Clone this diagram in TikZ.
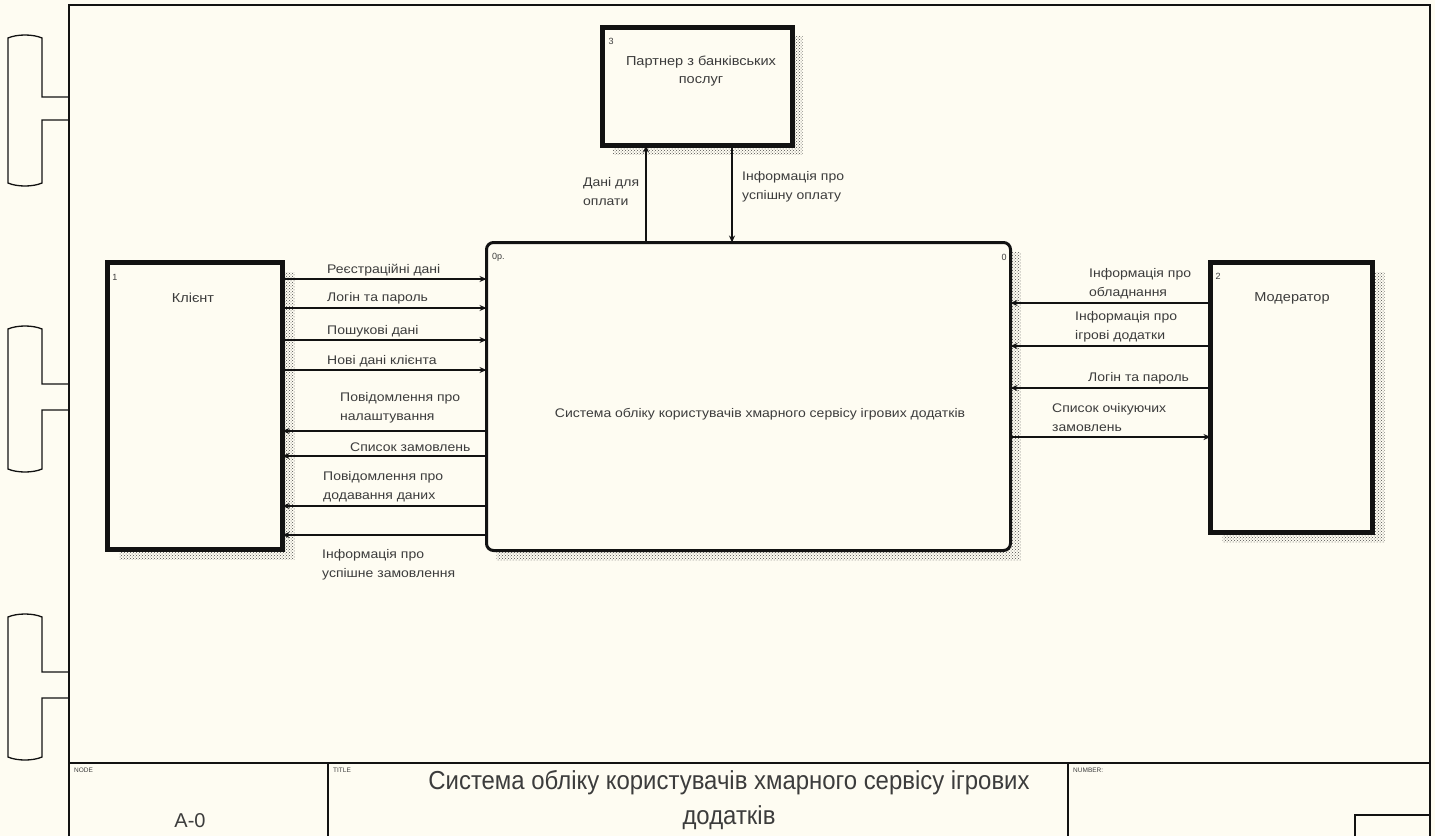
\documentclass[tikz,border=0pt]{standalone}
\usepackage{fontspec}
\setmainfont{Liberation Sans}
\newfontfamily\widefont[FakeStretch=1.12]{Liberation Sans}
\newfontfamily\narrowfont[FakeStretch=0.92]{Liberation Sans}
\usetikzlibrary{arrows.meta,patterns}
\pgfdeclarelayer{paperlayer}
\pgfdeclarelayer{shadowlayer}
\pgfsetlayers{paperlayer,shadowlayer,main}
\definecolor{paper}{RGB}{254,252,242}
\definecolor{ink}{RGB}{18,18,18}
\definecolor{txt}{RGB}{60,60,60}
\tikzset{
  box/.style={draw=ink, line width=5pt, fill=paper, inner sep=0pt, outer sep=0pt},
  procbox/.style={draw=ink, line width=3pt, fill=paper, rounded corners=7pt, inner sep=0pt, outer sep=0pt},
  boxshadow/.style={pattern=crosshatch dots, pattern color=black!70, draw=none},
  flow/.style={draw=ink, line width=1.8pt, -{Stealth[length=7pt,width=6pt]}},
  lbl/.style={font=\widefont\fontsize{12.5}{19}\selectfont, text=txt, align=left, inner sep=0pt},
  boxtext/.style={font=\widefont\fontsize{13}{18}\selectfont, text=txt, align=center, inner sep=0pt},
  tag/.style={font=\fontsize{9}{10}\selectfont, text=txt, inner sep=0pt},
  fieldname/.style={font=\fontsize{6.5}{7}\selectfont, text=txt, inner sep=0pt, anchor=west},
  frameline/.style={draw=ink, line width=1.8pt},
  binder/.style={draw=ink, line width=1.3pt},
}
\begin{document}
\begin{tikzpicture}[x=1pt,y=-1pt]
\useasboundingbox (0,0) rectangle (1435,836);
\begin{pgfonlayer}{paperlayer}
  \fill[paper] (0,0) rectangle (1435,836);
\end{pgfonlayer}

% binder clips on the left margin
\foreach \t/\na/\nb/\b in {35/97/120/186, 326/384/410/472, 614/672/698/760}{
  \draw[binder] (69,\na) -- (42,\na) -- (42,\t+3)
     .. controls (33,\t-1) and (17,\t-1) .. (8,\t+3) -- (8,\b-3)
     .. controls (17,\b+1) and (33,\b+1) .. (42,\b-3) -- (42,\nb) -- (69,\nb);
}

% sheet frame and title block
\draw[frameline] (69,836) -- (69,5) -- (1430,5) -- (1430,836);
\draw[frameline] (69,763) -- (1430,763);
\draw[frameline] (328,763) -- (328,836);
\draw[frameline] (1068,763) -- (1068,836);
\draw[frameline] (1355,836) -- (1355,815) -- (1430,815);
\node[fieldname] (fnode) at (74,770) {NODE};
\node[fieldname] (ftitle) at (333,770) {TITLE};
\node[fieldname] (fnumber) at (1073,770) {NUMBER:};
\node[font=\fontsize{20}{22}\selectfont, text=txt, inner sep=0pt] (nodeid) at (190,821) {A-0};
\node[font=\narrowfont\fontsize{26}{35}\selectfont, text=txt, inner sep=0pt, align=center] (sheettitle) at (729,800)
  {Система обліку користувачів хмарного сервісу ігрових\\додатків};

% activity and external entities
\node[box, minimum width=175, minimum height=287] (client) at (195,406) {};
\node[box, minimum width=190, minimum height=118] (partner) at (697.5,86.5) {};
\node[procbox, minimum width=524, minimum height=308] (main) at (748.5,396.5) {};
\node[box, minimum width=162, minimum height=270] (moder) at (1291.5,397.5) {};

\begin{pgfonlayer}{shadowlayer}
  \fill[boxshadow] ([xshift=12,yshift=-10]client.north east) rectangle ([xshift=12,yshift=-10]client.south west);
  \fill[boxshadow] ([xshift=10,yshift=-9]partner.north east) rectangle ([xshift=10,yshift=-9]partner.south west);
  \fill[boxshadow] ([xshift=10,yshift=-10]main.north east) rectangle ([xshift=10,yshift=-10]main.south west);
  \fill[boxshadow] ([xshift=12,yshift=-10]moder.north east) rectangle ([xshift=12,yshift=-10]moder.south west);
\end{pgfonlayer}

\node[tag] (tclient) at (115,277) {1};
\node[tag] (tpartner) at (611,41) {3};
\node[tag] (tmoder) at (1218,276) {2};
\node[tag, anchor=west] (tmainl) at (492,257) {0р.};
\node[tag] (tmainr) at (1004,257) {0};

\node[boxtext] (nclient) at (193,298) {Клієнт};
\node[boxtext] (npartner) at (701,71) {Партнер з банківських\\послуг};
\node[boxtext] (nmoder) at (1292,298) {Модератор};
\node[boxtext, font=\widefont\fontsize{12.5}{18}\selectfont] (nmain) at (760,414) {Система обліку користувачів хмарного сервісу ігрових додатків};

% client -> activity
\draw[flow] (client.east |- 0,279) -- (main.west |- 0,279);
\draw[flow] (client.east |- 0,308) -- (main.west |- 0,308);
\draw[flow] (client.east |- 0,340) -- (main.west |- 0,340);
\draw[flow] (client.east |- 0,370) -- (main.west |- 0,370);
\node[lbl, anchor=west] (a1) at (327,270) {Реєстраційні дані};
\node[lbl, anchor=west] (a2) at (327,298) {Логін та пароль};
\node[lbl, anchor=west] (a3) at (327,331) {Пошукові дані};
\node[lbl, anchor=west] (a4) at (327,361) {Нові дані клієнта};

% activity -> client
\draw[flow] (main.west |- 0,431) -- (client.east |- 0,431);
\draw[flow] (main.west |- 0,456) -- (client.east |- 0,456);
\draw[flow] (main.west |- 0,506) -- (client.east |- 0,506);
\draw[flow] (main.west |- 0,535) -- (client.east |- 0,535);
\node[lbl, anchor=west] (b1) at (340,408) {Повідомлення про\\налаштування};
\node[lbl, anchor=west] (b2) at (350,447) {Список замовлень};
\node[lbl, anchor=west] (b3) at (323,487) {Повідомлення про\\додавання даних};
\node[lbl, anchor=west] (b4) at (322,565) {Інформація про\\успішне замовлення};

% activity <-> partner
\draw[flow] (main.north -| 646,0) -- (partner.south -| 646,0);
\draw[flow] (partner.south -| 732,0) -- (main.north -| 732,0);
\node[lbl, anchor=west] (c1) at (583,192) {Дані для\\оплати};
\node[lbl, anchor=west] (c2) at (742,187) {Інформація про\\успішну оплату};

% moderator <-> activity
\draw[flow] (moder.west |- 0,303) -- (main.east |- 0,303);
\draw[flow] (moder.west |- 0,346) -- (main.east |- 0,346);
\draw[flow] (moder.west |- 0,388) -- (main.east |- 0,388);
\draw[flow] (main.east |- 0,437) -- (moder.west |- 0,437);
\node[lbl, anchor=west] (d1) at (1089,284) {Інформація про\\обладнання};
\node[lbl, anchor=west] (d2) at (1075,327) {Інформація про\\ігрові додатки};
\node[lbl, anchor=west] (d3) at (1088,378) {Логін та пароль};
\node[lbl, anchor=west] (d4) at (1052,418) {Список очікуючих\\замовлень};
\end{tikzpicture}
\end{document}
